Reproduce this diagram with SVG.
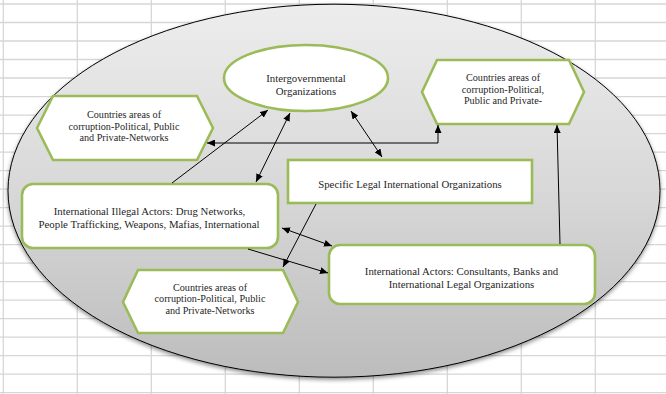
<svg xmlns="http://www.w3.org/2000/svg" width="666" height="394" viewBox="0 0 666 394">
<defs>
<style>
.grid line{stroke:#d6d6d6;stroke-width:1.3}
.node{fill:#fff;stroke:#9bbb59;stroke-width:2.6}
.t{font-family:"Liberation Serif","Times New Roman",serif;fill:#262626;text-anchor:middle}
.s{font-size:10.2px}
.m{font-size:10.8px}
.conn line,.conn polyline{stroke:#000;stroke-width:1;fill:none}
</style>
<linearGradient id="bg" x1="0" y1="0" x2="0" y2="1">
<stop offset="0" stop-color="#ededed"/>
<stop offset="0.5" stop-color="#d8d8d8"/>
<stop offset="1" stop-color="#bcbcbc"/>
</linearGradient>
<filter id="sh" x="-5%" y="-5%" width="110%" height="115%">
<feDropShadow dx="0" dy="2" stdDeviation="2" flood-color="#000" flood-opacity="0.45"/>
</filter>
<marker id="arr" markerUnits="userSpaceOnUse" markerWidth="9" markerHeight="7" refX="8" refY="3.5" orient="auto-start-reverse">
<path d="M0,0 L8,3.5 L0,7 z" fill="#000"/>
</marker>
</defs>
<rect width="666" height="394" fill="#fff"/>
<g class="grid">
<line x1="3.3" y1="0" x2="3.3" y2="394"/>
<line x1="77.3" y1="0" x2="77.3" y2="394"/>
<line x1="151.3" y1="0" x2="151.3" y2="394"/>
<line x1="225.3" y1="0" x2="225.3" y2="394"/>
<line x1="299.3" y1="0" x2="299.3" y2="394"/>
<line x1="373.3" y1="0" x2="373.3" y2="394"/>
<line x1="447.3" y1="0" x2="447.3" y2="394"/>
<line x1="521.3" y1="0" x2="521.3" y2="394"/>
<line x1="595.3" y1="0" x2="595.3" y2="394"/>
<line x1="0" y1="4" x2="666" y2="4"/>
<line x1="0" y1="22.5" x2="666" y2="22.5"/>
<line x1="0" y1="41" x2="666" y2="41"/>
<line x1="0" y1="59.5" x2="666" y2="59.5"/>
<line x1="0" y1="78" x2="666" y2="78"/>
<line x1="0" y1="96.6" x2="666" y2="96.6"/>
<line x1="0" y1="115.1" x2="666" y2="115.1"/>
<line x1="0" y1="133.6" x2="666" y2="133.6"/>
<line x1="0" y1="152.1" x2="666" y2="152.1"/>
<line x1="0" y1="170.6" x2="666" y2="170.6"/>
<line x1="0" y1="189.1" x2="666" y2="189.1"/>
<line x1="0" y1="207.6" x2="666" y2="207.6"/>
<line x1="0" y1="226.1" x2="666" y2="226.1"/>
<line x1="0" y1="244.6" x2="666" y2="244.6"/>
<line x1="0" y1="263.1" x2="666" y2="263.1"/>
<line x1="0" y1="281.7" x2="666" y2="281.7"/>
<line x1="0" y1="300.2" x2="666" y2="300.2"/>
<line x1="0" y1="318.7" x2="666" y2="318.7"/>
<line x1="0" y1="337.2" x2="666" y2="337.2"/>
<line x1="0" y1="355.7" x2="666" y2="355.7"/>
<line x1="0" y1="374.2" x2="666" y2="374.2"/>
<line x1="0" y1="392.7" x2="666" y2="392.7"/>
</g>
<ellipse cx="334" cy="190.7" rx="326" ry="186.5" fill="url(#bg)" stroke="#000" stroke-width="1" filter="url(#sh)"/>
<g id="intergovernmental">
<ellipse class="node" cx="306" cy="78" rx="82" ry="33"/>
<text class="t m" x="306" y="82">Intergovernmental</text>
<text class="t m" x="306" y="95">Organizations</text>
</g>
<g id="countries-top-right">
<polygon class="node" points="437,60 569,60 584,92 569,124 437,124 422,92"/>
<text class="t s" x="503" y="81">Countries areas of</text>
<text class="t s" x="503" y="92.5">corruption-Political,</text>
<text class="t s" x="503" y="104">Public and Private-</text>
</g>
<g id="countries-left">
<polygon class="node" points="53,96 197,96 213,128 197,160 53,160 37,128"/>
<text class="t s" x="124" y="118">Countries areas of</text>
<text class="t s" x="124" y="129.5">corruption-Political, Public</text>
<text class="t s" x="124" y="141">and Private-Networks</text>
</g>
<g id="countries-bottom">
<polygon class="node" points="138,270 283,270 298,302 283,333 138,333 123,302"/>
<text class="t s" x="210" y="290.5">Countries areas of</text>
<text class="t s" x="210" y="302">corruption-Political, Public</text>
<text class="t s" x="210" y="313.5">and Private-Networks</text>
</g>
<g id="illegal-actors">
<rect class="node" x="22" y="184" width="256" height="64" rx="11"/>
<text class="t m" x="149.5" y="215">International Illegal Actors: Drug Networks,</text>
<text class="t m" x="149" y="228">People Trafficking, Weapons, Mafias, International</text>
</g>
<g id="specific-legal">
<rect class="node" x="288" y="160" width="244" height="43"/>
<text class="t m" x="410" y="187.5">Specific Legal International Organizations</text>
</g>
<g id="international-actors">
<rect class="node" x="329" y="245" width="266" height="59" rx="11"/>
<text class="t m" x="461.5" y="275">International Actors: Consultants, Banks and</text>
<text class="t m" x="461.5" y="287.5">International Legal Organizations</text>
</g>
<g class="conn" id="connectors">
<line x1="172" y1="183" x2="268" y2="110" marker-end="url(#arr)"/>
<line x1="290" y1="113" x2="256" y2="182" marker-start="url(#arr)" marker-end="url(#arr)"/>
<line x1="351" y1="111" x2="382" y2="157" marker-start="url(#arr)" marker-end="url(#arr)"/>
<polyline points="207,143 438,143 438,125" marker-start="url(#arr)" marker-end="url(#arr)"/>
<line x1="560" y1="244" x2="557" y2="125" marker-end="url(#arr)"/>
<line x1="282" y1="228" x2="332" y2="246" marker-start="url(#arr)" marker-end="url(#arr)"/>
<line x1="248" y1="249" x2="328" y2="273" marker-end="url(#arr)"/>
<line x1="316" y1="204" x2="283" y2="267" marker-end="url(#arr)"/>
</g>
</svg>
